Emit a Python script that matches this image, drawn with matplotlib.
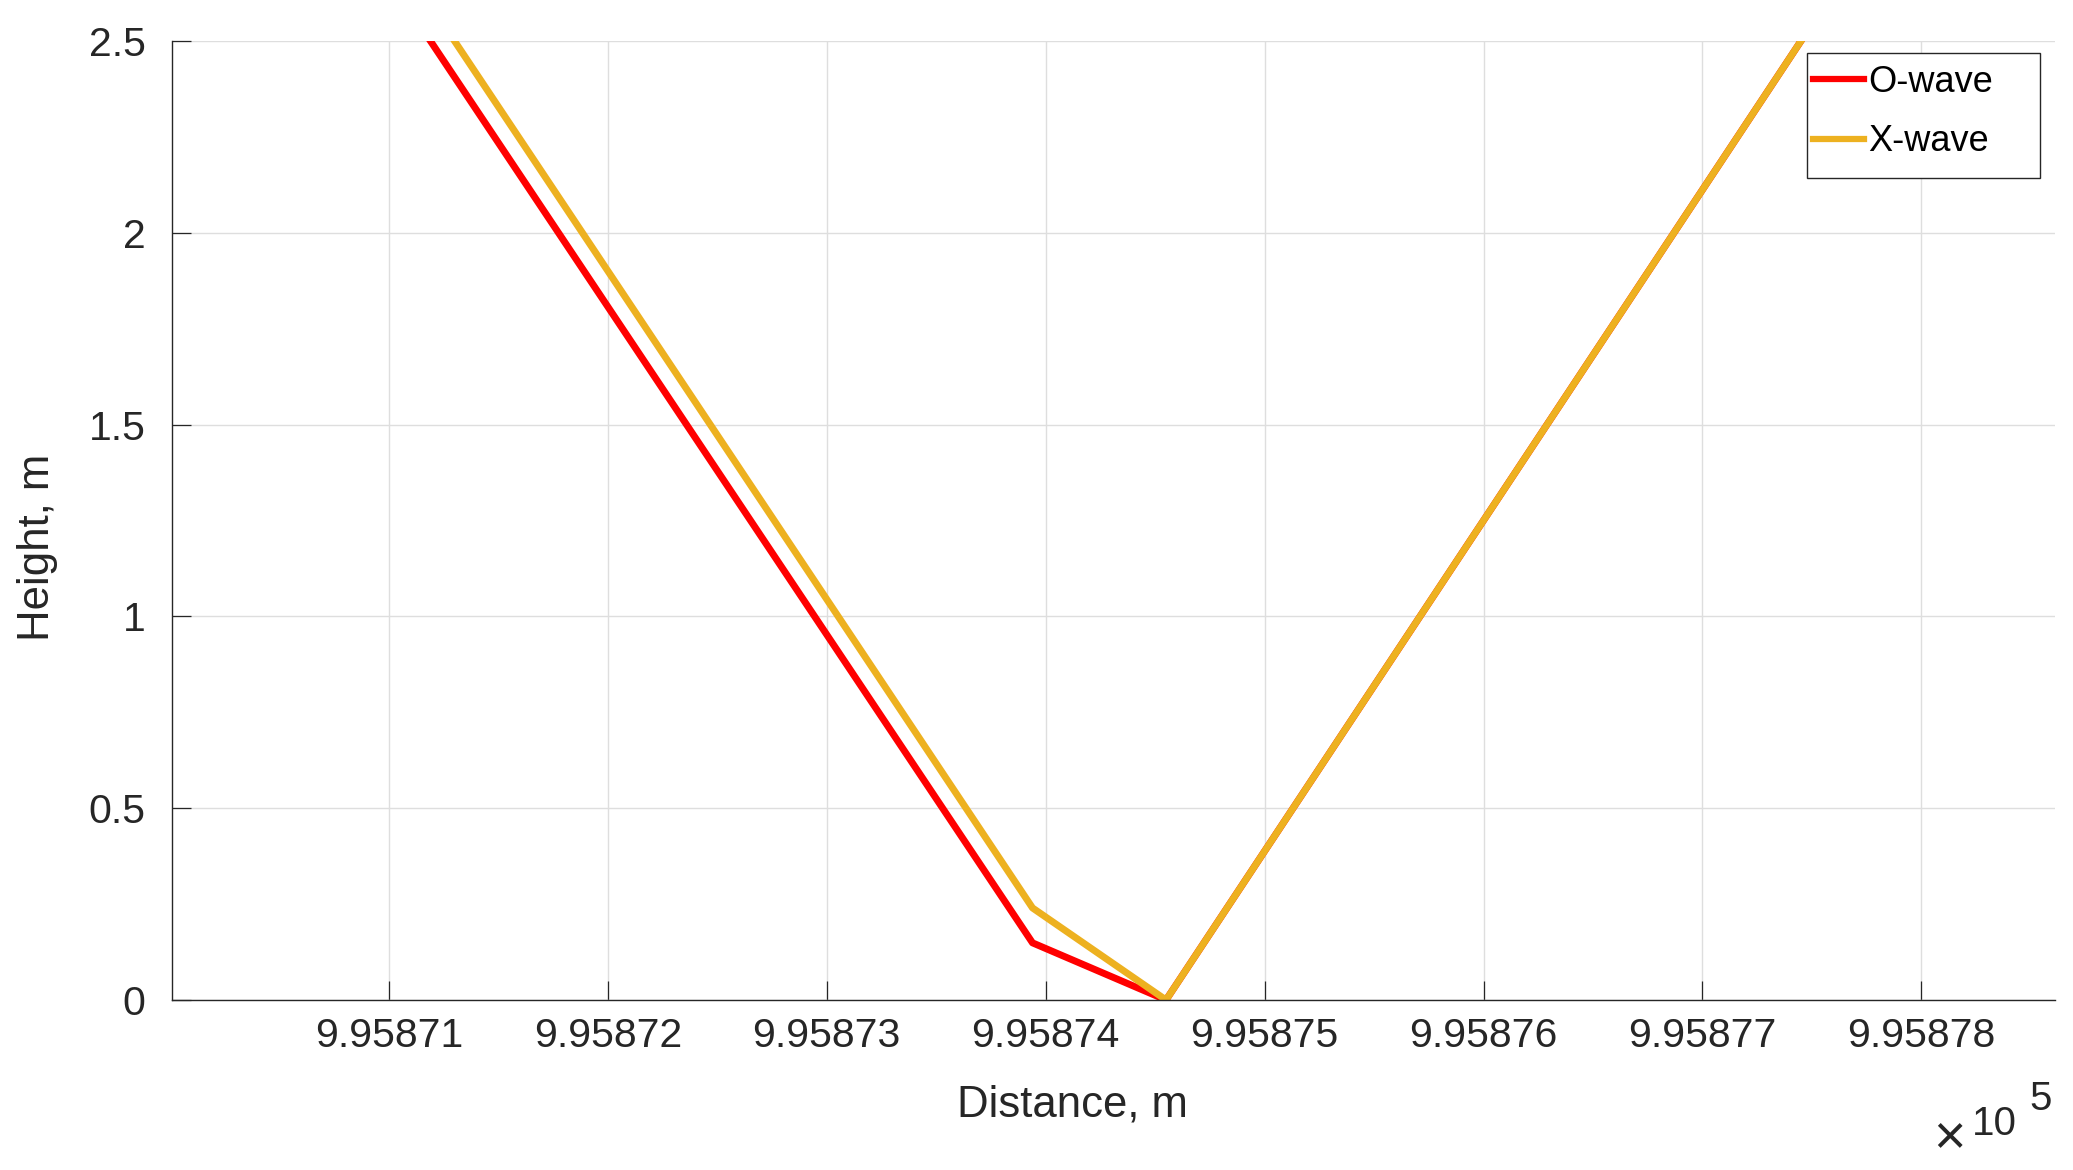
import matplotlib
matplotlib.use('Agg')
import matplotlib.pyplot as plt
from matplotlib.ticker import MultipleLocator, FuncFormatter
from matplotlib.patches import Rectangle

# values
o_wave_distance = [995871.19, 995873.94, 995874.55, 995877.45]
o_wave_height = [2.5, 0.149, 0.0, 2.5]
x_wave_distance = [995871.30, 995873.94, 995874.55, 995877.45]
x_wave_height = [2.5, 0.24, 0.0, 2.5]
series_labels = ['O-wave', 'X-wave']
x_limits = (995870.01, 995878.61)
y_limits = (0, 2.5)
y_ticks = [0, 0.5, 1, 1.5, 2, 2.5]

dark = '#262626'
plt.rcParams['font.family'] = ['Liberation Sans', 'DejaVu Sans']

fig = plt.figure(figsize=(20.73, 11.70), dpi=100)
ax = fig.add_axes([0.083, 0.1453, 0.9083, 0.8197])

ax.plot(o_wave_distance, o_wave_height, color='#FF0000', lw=5, label=series_labels[0])
ax.plot(x_wave_distance, x_wave_height, color='#EDB120', lw=5, label=series_labels[1])

ax.set_xlim(*x_limits)
ax.set_ylim(*y_limits)
ax.xaxis.set_major_locator(MultipleLocator(1))
ax.xaxis.set_major_formatter(FuncFormatter(lambda v, p: f'{v / 1e5:.5f}'))
ax.set_yticks(y_ticks)
ax.yaxis.set_major_formatter(FuncFormatter(lambda v, p: f'{v:g}'))

ax.grid(True, color='#DEDEDE', lw=1.0)
ax.set_axisbelow(True)
for side in ['top', 'right']:
    ax.spines[side].set_visible(False)
for side in ['left', 'bottom']:
    ax.spines[side].set_color(dark)
    ax.spines[side].set_linewidth(1.0)

ax.tick_params(axis='both', direction='in', length=13.7, width=0.9, color=dark,
               labelcolor=dark, labelsize=29.5)
ax.tick_params(axis='x', pad=12)
ax.tick_params(axis='y', pad=19)

ax.set_xlabel('Distance, m', fontsize=31.5, color=dark)
ax.xaxis.set_label_coords(0.478, -0.088)
ax.set_ylabel('Height, m', fontsize=31.5, color=dark)
ax.yaxis.set_label_coords(-0.0605, 0.472)

# exponent label, like matlab puts it
fig.text(1933 / 2073, 1 - 1153 / 1170, '\u00d7', fontsize=40, color=dark, va='baseline')
fig.text(1972 / 2073, 1 - 1135 / 1170, '10', fontsize=29, color=dark, va='baseline')
fig.text(2029 / 2073, 1 - 1110 / 1170, '5', fontsize=29, color=dark, va='baseline')

leg = ax.legend(loc='upper left', bbox_to_anchor=(0.8715, 0.975), borderaxespad=0,
                borderpad=0, frameon=False, fontsize=26, handlelength=1.42,
                handletextpad=0.11, labelspacing=0.68)
for t in leg.get_texts():
    t.set_color('black')
for h in leg.get_lines():
    h.set_linewidth(4.5)
ax.add_patch(Rectangle((0.8683, 0.857), 0.992 - 0.8683, 0.9875 - 0.857,
                       transform=ax.transAxes, fill=True, facecolor='white',
                       edgecolor=dark, lw=1.0, zorder=4, clip_on=False))
leg.set_zorder(5)

fig.savefig('out.png', dpi=100)
